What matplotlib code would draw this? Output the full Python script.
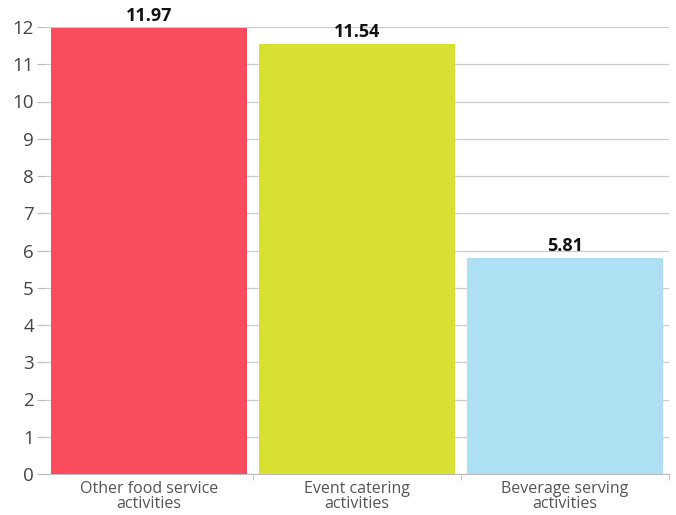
import matplotlib.pyplot as plt
import numpy as np

categories = ['Other food service\nactivities', 'Event catering\nactivities', 'Beverage serving\nactivities']
values = [11.97, 11.54, 5.81]
colors = ['#FA4C5D', '#D8E032', '#ADE0F2']
yticks = list(range(0, 13))

plt.rcParams['font.family'] = ['Open Sans', 'DejaVu Sans']

fig = plt.figure(figsize=(6.76, 5.15), dpi=100)
ax = fig.add_axes([45 / 676, 41 / 515, 624 / 676, 447 / 515])

x = np.arange(len(categories))
bars = ax.bar(x, values, width=0.945, color=colors, zorder=3)

for b, v in zip(bars, values):
    ax.text(b.get_x() + b.get_width() / 2, v + 0.08, '%.2f' % v,
            ha='center', va='bottom', fontsize=13, fontweight='bold', color='#111111')

ax.set_xlim(-0.5, 2.5)
ax.set_ylim(0, 12)
ax.set_yticks(yticks)
ax.set_xticks(x)
ax.set_xticklabels(categories, fontsize=11.5, color='#555555', linespacing=0.92)
ax.set_xticks([0.5, 1.5, 2.5], minor=True)
ax.tick_params(axis='x', which='major', length=0, pad=5)
ax.tick_params(axis='x', which='minor', length=4, color='#bbbbbb')
ax.tick_params(axis='y', length=6, color='#bbbbbb', labelsize=13.5, labelcolor='#444444', pad=2)

ax.grid(axis='y', color='#cccccc', linewidth=0.9, zorder=0)
for s in ['top', 'right', 'left']:
    ax.spines[s].set_visible(False)
ax.spines['bottom'].set_color('#bbbbbb')

fig.savefig('out.png', dpi=100)
